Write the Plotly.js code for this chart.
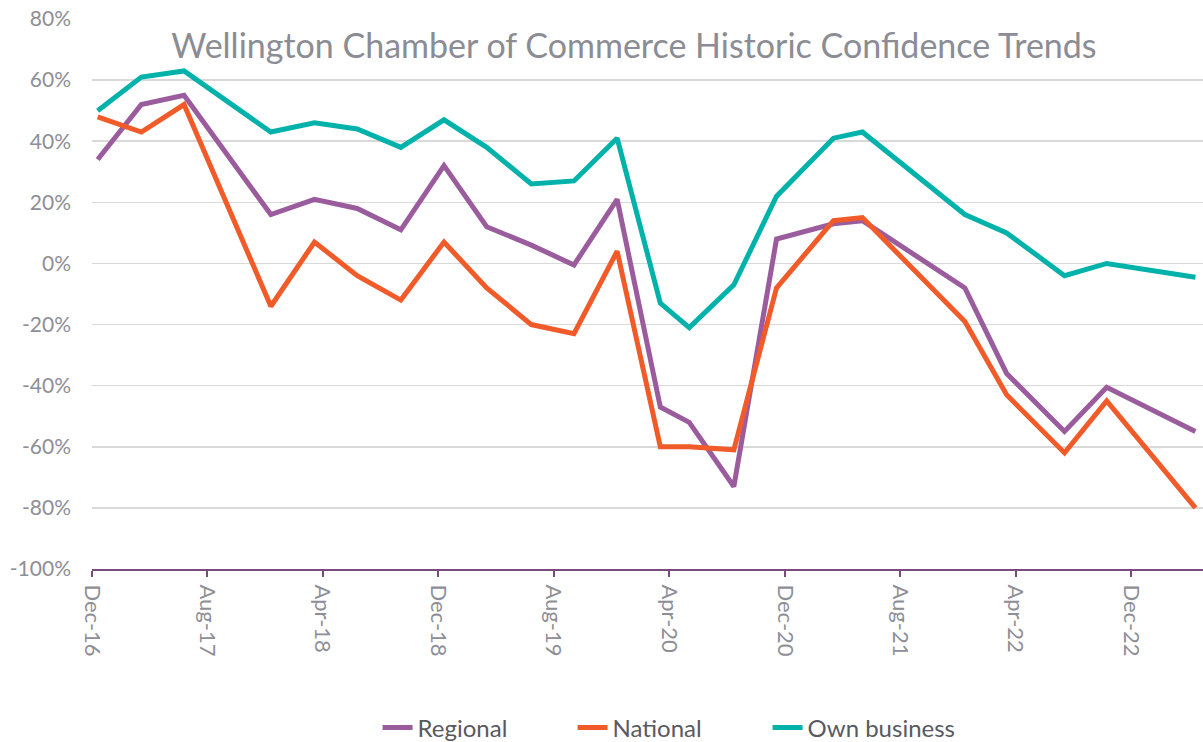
<!DOCTYPE html>
<html>
<head>
<meta charset="utf-8">
<script src="https://cdn.plot.ly/plotly-3.0.1.min.js"></script>
<style>html,body{margin:0;padding:0;background:#fff;}#chart{width:1203px;height:742px;}</style>
</head>
<body>
<div id="chart"></div>
<script>
const dates = ["2016-12-13","2017-03-15","2017-06-13","2017-12-13","2018-03-15","2018-06-13","2018-09-13","2018-12-13","2019-03-13","2019-06-15","2019-09-13","2019-12-13","2020-03-13","2020-05-13","2020-08-15","2020-11-13","2021-03-13","2021-05-13","2021-12-15","2022-03-13","2022-07-13","2022-10-10","2023-04-15"];
const regional = [34,52,55,16,21,18,11,32,12,6,-0.5,21,-47,-52,-73,8,13,14,-8,-36,-55,-40.5,-55];
const national = [48,43,52,-14,7,-4,-12,7,-8,-20,-23,4,-60,-60,-61,-8,14,15,-19,-43,-62,-45,-80];
const ownBusiness = [50,61,63,43,46,44,38,47,38,26,27,41,-13,-21,-7,22,41,43,16,10,-4,0,-4.5];
const yTicks = [-100,-80,-60,-40,-20,0,20,40,60,80];
const yTickText = ["-100%","-80%","-60%","-40%","-20%","0%","20%","40%","60%","80%"];

const mk = (name, y, color) => ({
  x: dates, y: y, name: name, type: 'scatter', mode: 'lines',
  line: {color: color, width: 5, shape: 'linear'}
});
const traces = [
  mk('Regional', regional, '#9B5C9E'),
  mk('National', national, '#F15A29'),
  mk('Own business', ownBusiness, '#00B2AA')
];
const FONT = 'Lato, "Open Sans", sans-serif';
const layout = {
  width: 1203, height: 742,
  margin: {l: 92, r: 0, t: 19, b: 173},
  paper_bgcolor: '#fff', plot_bgcolor: '#fff',
  font: {family: FONT, color: '#8E8E96'},
  title: {text: 'Wellington Chamber of Commerce Historic Confidence Trends',
    font: {size: 34, color: '#8C8C94', family: FONT},
    x: 0.527, xref: 'container', xanchor: 'center', y: 0.938, yref: 'container', yanchor: 'middle'},
  xaxis: {
    type: 'date', range: ['2016-12-01', '2023-05-01'],
    tick0: '2016-12-01', dtick: 'M8', tickformat: '%b-%y', tickangle: 90,
    showgrid: false, zeroline: false,
    showline: true, linecolor: '#7B4A7D', linewidth: 2,
    ticks: 'outside', ticklen: 6, tickwidth: 2, tickcolor: '#7B4A7D',
    ticklabelstandoff: 3,
    tickfont: {size: 22, color: '#8E8E96'}
  },
  yaxis: {
    range: [-100, 80], tickvals: yTicks, ticktext: yTickText,
    showgrid: true, gridcolor: '#D9D9D9', gridwidth: 1.5,
    zeroline: false, showline: false, ticks: '',
    ticklabelstandoff: 20,
    tickfont: {size: 21, color: '#8E8E96'}
  },
  showlegend: true,
  legend: {orientation: 'h', xref: 'container', yref: 'container',
    x: 0.557, xanchor: 'center', y: 0.019, yanchor: 'middle',
    entrywidth: 150, entrywidthmode: 'pixels',
    font: {size: 24, color: '#595960'}, tracegroupgap: 0}
};
Plotly.newPlot('chart', traces, layout, {displayModeBar: false, staticPlot: true});
</script>
</body>
</html>
